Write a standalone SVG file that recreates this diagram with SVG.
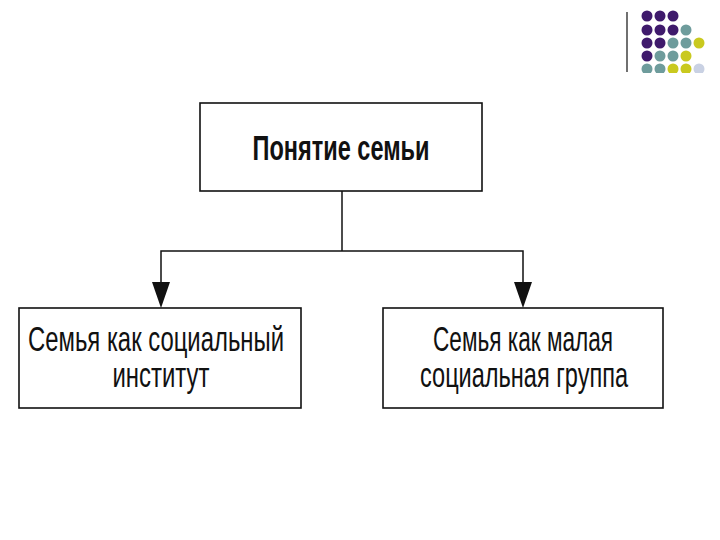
<svg xmlns="http://www.w3.org/2000/svg" width="720" height="540" viewBox="0 0 720 540">
<style>
.box{fill:#fff;stroke:#111;stroke-width:1.6}
.t{font-family:"Liberation Sans",Arial,sans-serif;fill:#111;text-anchor:middle}
.b{font-weight:bold;font-size:35px}
.r{font-size:35px}
.ln{fill:none;stroke:#111;stroke-width:1.5}
.p{fill:#3f1a6c}.g{fill:#6e9c9c}.y{fill:#c9c91f}.l{fill:#c9d1e3}
</style>
<defs>
<clipPath id="dc"><rect x="630" y="0" width="90" height="73"/></clipPath>
</defs>
<rect width="720" height="540" fill="#fff"/>
<g id="decor">
<line x1="627" y1="12" x2="627" y2="72" stroke="#111" stroke-width="1.2"/>
<g clip-path="url(#dc)">
<circle class="p" cx="647" cy="16" r="5.5"/><circle class="p" cx="660" cy="16" r="5.5"/><circle class="p" cx="673" cy="16" r="5.5"/>
<circle class="p" cx="647" cy="30" r="5.5"/><circle class="p" cx="660" cy="30" r="5.5"/><circle class="p" cx="673" cy="30" r="5.5"/><circle class="g" cx="686" cy="30" r="5.5"/>
<circle class="p" cx="647" cy="43" r="5.5"/><circle class="p" cx="660" cy="43" r="5.5"/><circle class="g" cx="673" cy="43" r="5.5"/><circle class="g" cx="686" cy="43" r="5.5"/><circle class="y" cx="699" cy="43" r="5.5"/>
<circle class="p" cx="647" cy="56" r="5.5"/><circle class="g" cx="660" cy="56" r="5.5"/><circle class="g" cx="673" cy="56" r="5.5"/><circle class="y" cx="686" cy="56" r="5.5"/>
<circle class="g" cx="647" cy="69" r="5.5"/><circle class="g" cx="660" cy="69" r="5.5"/><circle class="y" cx="673" cy="69" r="5.5"/><circle class="y" cx="686" cy="69" r="5.5"/><circle class="l" cx="699" cy="69" r="5.5"/>
</g>
</g>
<g id="connectors">
<polyline class="ln" points="342,191 342,251"/>
<polyline class="ln" points="161,284 161,251 523,251 523,284"/>
<polygon points="152,282 170,282 161,308" fill="#111"/>
<polygon points="514,282 532,282 523,308" fill="#111"/>
</g>
<g id="node-top">
<rect class="box" x="200" y="103" width="282" height="88"/>
<text class="t b" x="341" y="160" textLength="177" lengthAdjust="spacingAndGlyphs">Понятие семьи</text>
</g>
<g id="node-left">
<rect class="box" x="19" y="308" width="282" height="100"/>
<text class="t r" x="156" y="351" textLength="256" lengthAdjust="spacingAndGlyphs">Семья как социальный</text>
<text class="t r" x="161" y="387" textLength="97" lengthAdjust="spacingAndGlyphs">институт</text>
</g>
<g id="node-right">
<rect class="box" x="383" y="308" width="280" height="100"/>
<text class="t r" x="523" y="351" textLength="180" lengthAdjust="spacingAndGlyphs">Семья как малая</text>
<text class="t r" x="524" y="387" textLength="208" lengthAdjust="spacingAndGlyphs">социальная группа</text>
</g>
</svg>
